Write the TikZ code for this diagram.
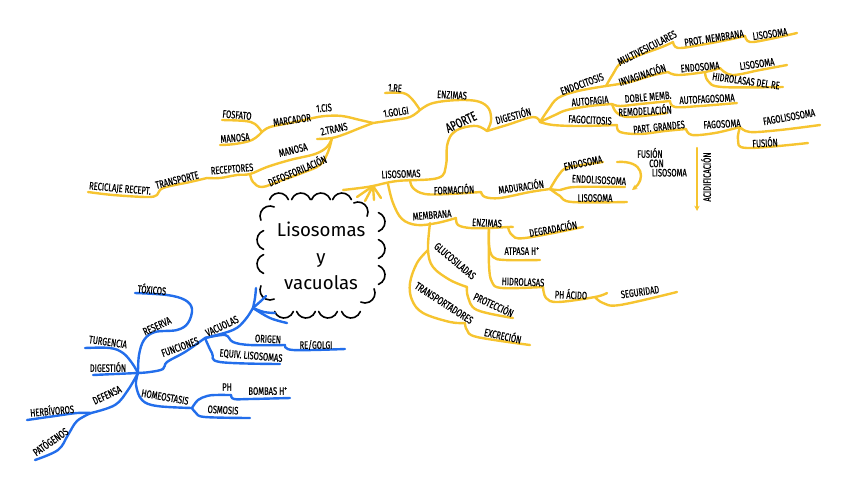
\documentclass[tikz,border=0pt]{standalone}
\usepackage{fontspec}
\setmainfont{Fira Sans}
\newfontfamily\hand[FakeStretch=0.7,FakeBold=0.5]{Fira Sans}
\usetikzlibrary{arrows.meta}
\definecolor{yel}{RGB}{246,196,48}
\definecolor{blu}{RGB}{35,110,235}
\begin{document}
\begin{tikzpicture}[x=0.75pt,y=-0.75pt,
  yl/.style={draw=yel,line width=1.8pt,line cap=round,line join=round},
  bl/.style={draw=blu,line width=1.8pt,line cap=round,line join=round},
  lab/.style={font=\hand\fontsize{8.1}{9}\selectfont,inner sep=0pt},
  cl/.style={line width=1.2pt,line cap=round},
  sm/.style={smooth,tension=0.6}]
\useasboundingbox (0,0) rectangle (848,486);

% ---------- cloud ----------
\foreach \cx in {279,301,321,342} {\draw[cl] ([shift={(160:7.5pt)}]\cx,203) arc[start angle=160,end angle=20,radius=7.5pt];}
\foreach \cy in {222,249,275} {\draw[cl] ([shift={(70:7.5pt)}]375,\cy) arc[start angle=70,end angle=-70,radius=7.5pt];}
\foreach \cx in {284,306,328,351} {\draw[cl] ([shift={(200:7.5pt)}]\cx,308) arc[start angle=200,end angle=340,radius=7.5pt];}
\foreach \cy in {240,264} {\draw[cl] ([shift={(110:7.5pt)}]267,\cy) arc[start angle=110,end angle=250,radius=7.5pt];}
\draw[cl] ([shift={(115:7.5pt)}]358,212) arc[start angle=115,end angle=-25,radius=7.5pt];
\draw[cl] ([shift={(25:7.5pt)}]365,293) arc[start angle=25,end angle=-115,radius=7.5pt];
\draw[cl] ([shift={(155:7.5pt)}]270,290) arc[start angle=155,end angle=295,radius=7.5pt];
\draw[cl] ([shift={(65:7.5pt)}]270,216) arc[start angle=65,end angle=205,radius=7.5pt];
\node[font=\fontsize{14}{20}\selectfont,align=center,inner sep=0pt] (cloud) at (321,256) {Lisosomas\\y\\vacuolas};

% ---------- yellow junctions ----------
\coordinate (jlis) at (373,186);
\coordinate (jap) at (438,178);
\coordinate (jdg) at (487,131);
\coordinate (jgr) at (420,110);
\coordinate (jgt) at (373,123);
\coordinate (jtr) at (332,138);
\coordinate (jmc) at (313,118);
\coordinate (jmf) at (262,132);
\coordinate (jrc) at (250,174);
\coordinate (jtp) at (207,178);
\coordinate (jrr) at (157,195);
\coordinate (jdi) at (540,122);
\coordinate (jen) at (606,86);
\coordinate (jmv) at (673,42);
\coordinate (jpm) at (745,36);
\coordinate (jiv) at (668,72);
\coordinate (jhr) at (705,72);
\coordinate (jes) at (720,68);
\coordinate (jaf) at (612,104);
\coordinate (jdm) at (670,101);
\coordinate (jfc) at (617,125);
\coordinate (jpg) at (686,129);
\coordinate (jfs) at (740,127);
\coordinate (jfo) at (410,180);
\coordinate (jfm) at (481,192);
\coordinate (jmd) at (550,189);
\coordinate (jmb) at (388,184);
\coordinate (jme) at (456,218);
\coordinate (jez) at (489,228);
\coordinate (jdr) at (508,227);
\coordinate (jhd) at (543,287);
\coordinate (jsg) at (595,297);
\coordinate (jms) at (430,223);
\coordinate (jtb) at (428,250);
\coordinate (jgl) at (467,287);
\coordinate (jtra) at (465,323);
\coordinate (acA) at (697,148);
\coordinate (acB) at (697,211);
\coordinate (fuA) at (617,162);
\coordinate (fuB) at (632,190);

% ---------- yellow strokes ----------
\draw[yl] plot[sm] coordinates {(343,190) (360,188) (jlis) (397,181) (jap) (446,165) (447,146) (452,134) (462,128) (477,126) (jdg)};
\foreach \p in {(357,197),(365,201),(374,200),(381,198)} {\draw[yl] (jlis) -- \p;}
\draw[yl] plot[sm] coordinates {(jdg) (491,121) (489,109) (480,102) (465,100) (445,101) (430,104) (jgr)};
\draw[yl] plot[sm] coordinates {(jgr) (412,99) (403,93) (385,93)};
\draw[yl] plot[sm] coordinates {(jgr) (410,117) (393,120) (jgt)};
\draw[yl] plot[sm] coordinates {(jgt) (360,120) (342,116) (325,116) (jmc)};
\draw[yl] plot[sm] coordinates {(jmc) (290,123) (270,127) (jmf)};
\draw[yl] plot[sm] coordinates {(jmf) (255,124) (245,121) (222,120)};
\draw[yl] plot[sm] coordinates {(jmf) (252,140) (235,144) (220,145)};
\draw[yl] plot[sm] coordinates {(jgt) (360,128) (345,134) (jtr) (317,139)};
\draw[yl] plot[sm] coordinates {(jtp) (220,178) (237,175) (jrc) (267,167) (290,160) (315,154) (327,147) (jtr)};
\draw[yl] plot[sm] coordinates {(jrc) (253,182) (262,187) (280,181) (302,173) (320,165) (328,152) (jtr)};
\draw[yl] plot[sm] coordinates {(88,192) (113,195) (147,197) (jrr) (163,188) (190,182) (jtp)};
\draw[yl] plot[sm] coordinates {(jdg) (507,125) (533,117) (jdi)};
\draw[yl] plot[sm] coordinates {(jdi) (548,110) (558,98) (578,91) (jen)};
\draw[yl] plot[sm] coordinates {(jen) (613,74) (621,63) (640,55) (662,47) (jmv)};
\draw[yl] plot[sm] coordinates {(jmv) (678,48) (700,45) (727,40) (jpm)};
\draw[yl] plot[sm] coordinates {(jpm) (750,42) (770,39) (797,33)};
\draw[yl] plot[sm] coordinates {(jen) (630,82) (650,76) (jiv)};
\draw[yl] plot[sm] coordinates {(jiv) (678,75) (jhr) (jes)};
\draw[yl] plot[sm] coordinates {(jes) (732,75) (760,70) (787,65)};
\draw[yl] plot[sm] coordinates {(jhr) (708,81) (722,87) (783,87)};
\draw[yl] plot[sm] coordinates {(jdi) (555,115) (567,110) (590,106) (jaf)};
\draw[yl] plot[sm] coordinates {(jaf) (620,106) (640,104) (jdm)};
\draw[yl] plot[sm] coordinates {(jaf) (617,113) (630,117) (667,113)};
\draw[yl] plot[sm] coordinates {(jdm) (675,107) (700,106) (737,103)};
\draw[yl] plot[sm] coordinates {(jdi) (553,125) (580,126) (jfc)};
\draw[yl] plot[sm] coordinates {(jfc) (620,132) (640,134) (665,131) (jpg)};
\draw[yl] plot[sm] coordinates {(jpg) (692,135) (715,133) (jfs)};
\draw[yl] plot[sm] coordinates {(jfs) (750,132) (780,130) (820,125)};
\draw[yl] plot[sm] coordinates {(jfs) (738,140) (747,148) (808,143)};
\draw[yl,-{Stealth[length=4pt,width=4pt]}] (acA) -- (acB);
\draw[yl] plot[sm] coordinates {(jfo) (413,188) (425,194) (450,194) (jfm)};
\draw[yl] plot[sm] coordinates {(jfm) (485,197) (500,198) (530,192) (jmd)};
\draw[yl] plot[sm] coordinates {(jmd) (558,176) (566,168) (582,165) (603,162)};
\draw[yl] plot[sm] coordinates {(jmd) (560,190) (575,187) (625,187)};
\draw[yl] plot[sm] coordinates {(jmd) (560,196) (572,202) (627,202)};
\draw[yl,-{Stealth[length=4pt,width=4pt]}] (fuA) .. controls (645,160) and (645,180) .. (fuB);
\draw[yl] plot[sm] coordinates {(jmb) (393,203) (402,219) (417,225) (437,223) (jme)};
\draw[yl] plot[sm] coordinates {(jme) (458,225) (470,228) (jez) (jdr) (513,227)};
\draw[yl] plot[sm] coordinates {(jdr) (512,235) (525,238) (583,227)};
\draw[yl] plot[sm] coordinates {(jez) (489,245) (493,257) (505,260) (540,260)};
\draw[yl] plot[sm] coordinates {(jez) (489,265) (492,282) (502,288) (jhd)};
\draw[yl] plot[sm] coordinates {(jhd) (546,298) (558,302) (jsg) (607,293)};
\draw[yl] plot[sm] coordinates {(jsg) (603,303) (620,305) (677,292)};
\draw[yl] plot[sm] coordinates {(jms) (jtb) (433,267) (450,280) (jgl)};
\draw[yl] plot[sm] coordinates {(jgl) (468,297) (477,310) (513,318)};
\draw[yl] plot[sm] coordinates {(jtb) (417,263) (410,283) (412,300) (423,313) (450,322) (jtra)};
\draw[yl] plot[sm] coordinates {(jtra) (467,330) (477,337) (530,345)};

% ---------- yellow labels ----------
\node[lab,rotate=2] (lis) at (401,174) {LISOSOMAS};
\node[lab,rotate=25,font=\hand\fontsize{10}{11}\selectfont] (apo) at (461,122) {APORTE};
\node[lab,rotate=-3] (enz) at (452,95) {ENZIMAS};
\node[lab,rotate=-5] (re1) at (395,88) {1.RE};
\node[lab,rotate=8] (gol) at (396,112) {1.GOLGI};
\node[lab,rotate=5] (cis) at (324,108) {1.CIS};
\node[lab,rotate=12] (tra) at (334,129) {2.TRANS};
\node[lab,rotate=8] (mar) at (292,120) {MARCADOR};
\node[lab,rotate=-5] (fos) at (237,115) {FOSFATO};
\node[lab,rotate=5] (man1) at (235,138) {MANOSA};
\node[lab,rotate=14] (man2) at (293,150) {MANOSA};
\node[lab,rotate=23] (def) at (297,170) {DEFOSFORILACIÓN};
\node[lab,rotate=5] (rec) at (232,169) {RECEPTORES};
\node[lab,rotate=14] (tpt) at (177,180) {TRANSPORTE};
\node[lab,rotate=-5] (rci) at (120,189) {RECICLAJE RECEPT.};
\node[lab,rotate=15] (dig) at (513,115) {DIGESTIÓN};
\node[lab,rotate=20] (end) at (582,84) {ENDOCITOSIS};
\node[lab,rotate=27] (mul) at (647,48) {MULTIVESICULARES};
\node[lab,rotate=9] (pro) at (714,38) {PROT. MEMBRANA};
\node[lab,rotate=8] (lso1) at (770,34) {LISOSOMA};
\node[lab,rotate=18] (inv) at (642,74) {INVAGINACIÓN};
\node[lab,rotate=5] (eso1) at (700,67) {ENDOSOMA};
\node[lab,rotate=8] (lso2) at (757,64) {LISOSOMA};
\node[lab,rotate=-8] (hre) at (746,81) {HIDROLASAS DEL RE};
\node[lab,rotate=5] (aut) at (590,101) {AUTOFAGIA};
\node[lab,rotate=5] (dob) at (648,97) {DOBLE MEMB.};
\node[lab,rotate=3] (rem) at (645,110) {REMODELACIÓN};
\node[lab,rotate=3] (afs) at (707,99) {AUTOFAGOSOMA};
\node[lab,rotate=-3] (fag) at (590,120) {FAGOCITOSIS};
\node[lab,rotate=6] (par) at (659,127) {PART. GRANDES};
\node[lab,rotate=3] (fso) at (722,124) {FAGOSOMA};
\node[lab,rotate=10] (fls) at (789,117) {FAGOLISOSOMA};
\node[lab,rotate=3] (fus) at (765,142) {FUSIÓN};
\node[lab,rotate=90] (aci) at (706,177) {ACIDIFICACIÓN};
\node[lab] (fcl) at (662,164) {\begin{tabular}{@{}l@{}}FUSIÓN\\[-2pt]\hspace{9pt}CON\\[-2pt]\hspace{11pt}LISOSOMA\end{tabular}};
\node[lab,rotate=2] (for) at (454,189) {FORMACIÓN};
\node[lab,rotate=8] (mad) at (521,186) {MADURACIÓN};
\node[lab,rotate=12] (eso2) at (583,163) {ENDOSOMA};
\node[lab,rotate=-3] (elis) at (599,180) {ENDOLISOSOMA};
\node[lab] (lso3) at (595,198) {LISOSOMA};
\node[lab,rotate=5] (mem) at (432,215) {MEMBRANA};
\node[lab,rotate=-3] (enz2) at (487,223) {ENZIMAS};
\node[lab,rotate=10] (deg) at (553,228) {DEGRADACIÓN};
\node[lab] (atp) at (522,251) {ATPASA H\textsuperscript{+}};
\node[lab,rotate=-2] (hid) at (523,282) {HIDROLASAS};
\node[lab,rotate=-2] (pha) at (571,294) {PH ÁCIDO};
\node[lab,rotate=8] (seg) at (640,292) {SEGURIDAD};
\node[lab,rotate=-40] (glu) at (455,261) {GLUCOSILADAS};
\node[lab,rotate=-25] (prt) at (494,304) {PROTECCIÓN};
\node[lab,rotate=-33] (tpo) at (444,303) {TRANSPORTADORES};
\node[lab,rotate=-12] (exc) at (503,335) {EXCRECIÓN};

% ---------- blue junctions ----------
\coordinate (broot) at (253,308);
\coordinate (bvac) at (205,338);
\coordinate (bhub) at (138,373);
\coordinate (bdef) at (91,413);
\coordinate (bhom) at (192,408);
\coordinate (bor) at (285,345);
\coordinate (bph) at (231,395);

% ---------- blue strokes ----------
\draw[bl] plot[sm] coordinates {(bvac) (233,330) (245,320) (broot)};
\draw[bl] plot[sm] coordinates {(broot) (255,298) (256,288)};
\draw[bl] plot[sm] coordinates {(broot) (262,300) (266,296)};
\draw[bl] plot[sm] coordinates {(broot) (264,312) (275,313)};
\draw[bl] plot[sm] coordinates {(broot) (270,318) (287,323)};
\draw[bl] plot[sm] coordinates {(bvac) (225,335) (233,342) (250,345) (bor)};
\draw[bl] plot[sm] coordinates {(bor) (293,350) (345,349)};
\draw[bl] plot[sm] coordinates {(bvac) (212,353) (220,362) (280,364)};
\draw[bl] plot[sm] coordinates {(bhub) (150,372) (163,369) (167,362) (185,352) (bvac)};
\draw[bl] plot[sm] coordinates {(bhub) (139,355) (144,340) (155,332) (177,330) (188,323) (192,309) (185,300) (167,295) (135,293)};
\draw[bl] plot[sm] coordinates {(85,348) (110,348) (123,353) (132,363) (bhub)};
\draw[bl] plot[sm] coordinates {(93,375) (115,374) (bhub)};
\draw[bl] plot[sm] coordinates {(bhub) (128,390) (115,405) (bdef)};
\draw[bl] plot[sm] coordinates {(27,420) (55,416) (77,413) (bdef)};
\draw[bl] plot[sm] coordinates {(bdef) (77,421) (68,435) (58,450) (35,460)};
\draw[bl] plot[sm] coordinates {(bhub) (136,385) (142,400) (157,406) (bhom)};
\draw[bl] plot[sm] coordinates {(bhom) (198,400) (207,396) (215,395) (bph)};
\draw[bl] plot[sm] coordinates {(bph) (234,399) (250,399) (290,398)};
\draw[bl] plot[sm] coordinates {(bhom) (196,413) (205,417) (250,418)};

% ---------- blue labels ----------
\node[lab,rotate=25] (vac) at (222,326) {VACUOLAS};
\node[lab,rotate=-3] (ori) at (268,339) {ORIGEN};
\node[lab] (rgo) at (316,345) {RE/GOLGI};
\node[lab,rotate=-5] (equ) at (251,356) {EQUIV. LISOSOMAS};
\node[lab,rotate=20] (fun) at (180,347) {FUNCIONES};
\node[lab,rotate=25] (res) at (157,326) {RESERVA};
\node[lab,rotate=-5] (tox) at (152,289) {TÓXICOS};
\node[lab,rotate=-8] (tur) at (108,342) {TURGENCIA};
\node[lab] (dig2) at (108,367) {DIGESTIÓN};
\node[lab,rotate=25] (dfn) at (107,395) {DEFENSA};
\node[lab,rotate=5] (her) at (52,410) {HERBÍVOROS};
\node[lab,rotate=35] (pat) at (50,441) {PATÓGENOS};
\node[lab,rotate=-10] (hom) at (165,397) {HOMEOSTASIS};
\node[lab] (ph) at (227,387) {PH};
\node[lab] (bom) at (268,391) {BOMBAS H\textsuperscript{+}};
\node[lab,rotate=-3] (osm) at (223,410) {OSMOSIS};
\end{tikzpicture}
\end{document}
